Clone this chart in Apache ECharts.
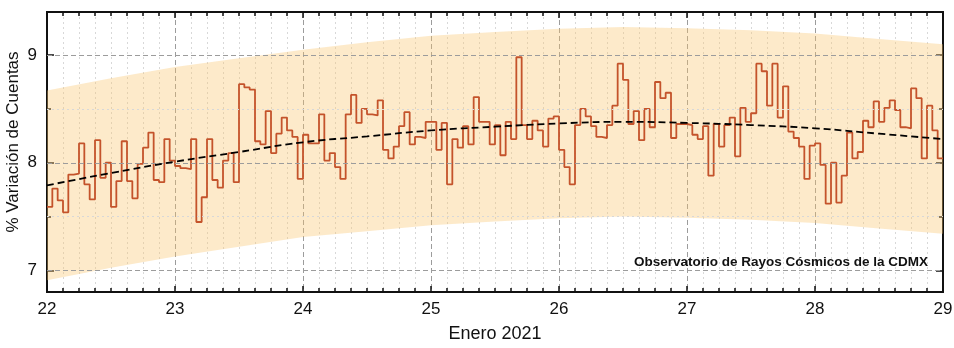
<!DOCTYPE html>
<html>
<head>
<meta charset="utf-8">
<script src="https://cdn.jsdelivr.net/npm/echarts@6/dist/echarts.min.js"></script>
<style>
  html, body { margin: 0; padding: 0; background: #fff; }
  #chart { width: 954px; height: 348px; }
</style>
</head>
<body>
<div id="chart"></div>
<script>
// Hourly % variation of counts, one array per day (January 2021)
const jan22 = [7.59, 7.76, 7.65, 7.54, 7.89, 7.90, 8.18, 7.80, 7.66, 8.21, 7.86, 8.00, 7.59, 7.83, 8.20, 7.83, 7.67, 7.99, 8.14, 8.28, 7.84, 7.82, 8.22, 8.02];
const jan23 = [7.97, 7.95, 7.94, 8.22, 7.45, 7.68, 8.22, 7.84, 7.77, 8.02, 8.09, 7.82, 8.73, 8.70, 8.68, 8.20, 8.17, 8.48, 8.09, 8.27, 8.42, 8.30, 8.24, 7.85];
const jan24 = [8.26, 8.18, 8.18, 8.45, 8.02, 8.09, 7.96, 7.85, 8.45, 8.63, 8.37, 8.50, 8.45, 8.44, 8.58, 8.12, 8.04, 8.15, 8.34, 8.47, 8.17, 8.24, 8.23, 8.38];
const jan25 = [8.38, 8.12, 8.37, 7.80, 8.22, 8.14, 8.34, 8.17, 8.61, 8.38, 8.38, 8.17, 8.35, 8.07, 8.38, 8.22, 8.98, 8.35, 8.22, 8.39, 8.30, 8.15, 8.41, 8.43];
const jan26 = [8.12, 7.96, 7.80, 8.35, 8.50, 8.43, 8.34, 8.24, 8.23, 8.35, 8.53, 8.92, 8.77, 8.36, 8.48, 8.21, 8.50, 8.33, 8.75, 8.60, 8.65, 8.23, 8.36, 8.36];
const jan27 = [8.35, 8.26, 8.22, 8.34, 7.88, 8.36, 8.15, 8.35, 8.42, 8.06, 8.51, 8.38, 8.46, 8.92, 8.85, 8.53, 8.92, 8.42, 8.71, 8.29, 8.23, 8.15, 7.85, 8.16];
const jan28 = [8.18, 7.98, 7.62, 8.00, 7.63, 7.88, 8.28, 8.04, 8.10, 8.39, 8.33, 8.57, 8.38, 8.51, 8.58, 8.49, 8.33, 8.32, 8.69, 8.60, 8.04, 8.53, 8.30, 8.04];

// Trend and band, sampled every half day
const trendX    = [22, 22.5, 23, 23.5, 24, 24.5, 25, 25.5, 26, 26.5, 27, 27.5, 28, 28.5, 29];
const trend     = [7.79, 7.905, 8.01, 8.10, 8.19, 8.245, 8.30, 8.335, 8.365, 8.38, 8.37, 8.35, 8.32, 8.27, 8.22];
const bandUpper = [8.67, 8.785, 8.89, 8.97, 9.05, 9.12, 9.18, 9.215, 9.245, 9.26, 9.25, 9.23, 9.20, 9.15, 9.10];
const bandLower = [6.91, 7.025, 7.13, 7.22, 7.31, 7.365, 7.42, 7.455, 7.485, 7.50, 7.49, 7.47, 7.44, 7.39, 7.34];

// Axis ticks / grid values
const yLabels = [7, 8, 9];
const yMinor = [7.5, 8.5];

const FONT = '"Liberation Sans", Arial, Helvetica, sans-serif';
const hourly = [].concat(jan22, jan23, jan24, jan25, jan26, jan27, jan28);
const stepData = hourly.map((v, i) => [22 + i / 24, v]);
stepData.push([29, hourly[hourly.length - 1]]);
const trendData = trendX.map((x, i) => [x, trend[i]]);

const axisColor = '#111';
const majorGrid = { color: '#9c9c9c', type: [5, 3], width: 1 };
const minorGrid = { color: '#d8d8d8', type: [2, 3], width: 1 };

const xCommon = {
  type: 'value', min: 22, max: 29, interval: 1,
  axisLine: { show: true, onZero: false, lineStyle: { color: axisColor, width: 2 } },
  axisTick: { show: true, inside: true, length: 6, lineStyle: { color: axisColor, width: 1.5 } },
  minorTick: { show: true, splitNumber: 8, length: 4, lineStyle: { color: axisColor, width: 1.5 } }
};
const yCommon = {
  type: 'value', min: 6.8, max: 9.4,
  splitLine: { show: false },
  axisLine: { show: true, onZero: false, lineStyle: { color: axisColor, width: 2 } }
};
const majorTick = { show: true, inside: true, length: 7, customValues: yLabels, lineStyle: { color: axisColor, width: 1.5 } };
const minorTickY = { show: true, inside: true, length: 4, customValues: yMinor, lineStyle: { color: axisColor, width: 1.5 } };

const chart = echarts.init(document.getElementById('chart'), null, { renderer: 'canvas' });
chart.setOption({
  animation: false,
  backgroundColor: '#ffffff',
  grid: { left: 47, right: 11, top: 12, bottom: 56, containLabel: false, outerBoundsMode: 'none' },
  xAxis: [
    Object.assign({}, xCommon, {
      position: 'bottom',
      name: 'Enero 2021', nameLocation: 'middle', nameGap: 33, nameMoveOverlap: false,
      nameTextStyle: { fontSize: 18, color: axisColor, fontFamily: FONT },
      axisLabel: { fontSize: 17, color: axisColor, margin: 9, fontFamily: FONT },
      splitLine: { show: true, lineStyle: majorGrid },
      minorSplitLine: { show: true, lineStyle: minorGrid }
    }),
    Object.assign({}, xCommon, {
      position: 'top',
      axisLabel: { show: false },
      splitLine: { show: false }
    })
  ],
  yAxis: [
    Object.assign({}, yCommon, {
      position: 'left',
      name: '% Variación de Cuentas', nameLocation: 'middle', nameRotate: 90, nameGap: 25, nameMoveOverlap: false,
      nameTextStyle: { fontSize: 17, color: axisColor, fontFamily: FONT, padding: [0, 0, 0, 20] },
      axisTick: majorTick,
      axisLabel: {
        show: true, customValues: yLabels, fontSize: 17, color: axisColor, margin: 10, fontFamily: FONT,
        formatter: v => (Number.isInteger(v) ? String(v) : '')
      }
    }),
    Object.assign({}, yCommon, { position: 'left', axisTick: minorTickY, axisLabel: { show: false } }),
    Object.assign({}, yCommon, { position: 'right', axisTick: majorTick, axisLabel: { show: false } }),
    Object.assign({}, yCommon, { position: 'right', axisTick: minorTickY, axisLabel: { show: false } })
  ],
  series: [
    {
      name: 'grid', type: 'line', data: [], z: 1, silent: true,
      markLine: {
        silent: true, symbol: 'none', animation: false, label: { show: false },
        data: yLabels.map(v => ({ yAxis: v, lineStyle: majorGrid }))
          .concat(yMinor.map(v => ({ yAxis: v, lineStyle: minorGrid })))
      }
    },
    {
      name: 'band', type: 'custom', z: 2, silent: true, clip: true,
      data: [[22, 8]],
      renderItem: function (params, api) {
        const pts = [];
        for (let i = 0; i < trendX.length; i++) pts.push(api.coord([trendX[i], bandUpper[i]]));
        for (let i = trendX.length - 1; i >= 0; i--) pts.push(api.coord([trendX[i], bandLower[i]]));
        return {
          type: 'polygon',
          shape: { points: pts },
          style: { fill: 'rgba(249, 196, 107, 0.36)', stroke: null }
        };
      }
    },
    {
      name: 'counts', type: 'line', step: 'end', data: stepData, z: 4,
      symbol: 'none', silent: true,
      lineStyle: { color: '#C4532B', width: 1.8 }
    },
    {
      name: 'trend', type: 'line', data: trendData, smooth: true, z: 5,
      symbol: 'none', silent: true,
      lineStyle: { color: '#000', width: 1.8, type: [7, 4] }
    }
  ],
  graphic: [
    {
      type: 'text', right: 26, top: 255, z: 10,
      style: {
        text: 'Observatorio de Rayos Cósmicos de la CDMX',
        font: 'bold 13.5px ' + FONT, fill: '#111'
      }
    }
  ]
});
</script>
</body>
</html>
